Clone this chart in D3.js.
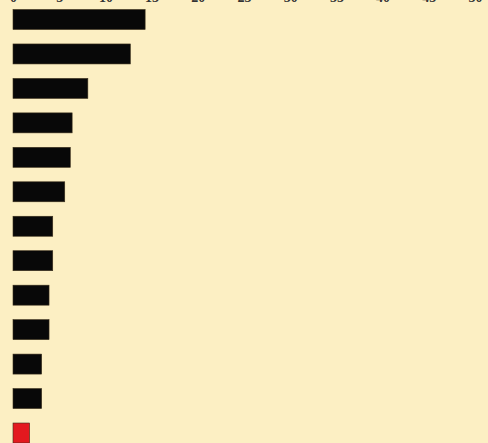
<!DOCTYPE html>
<html>
<head>
<meta charset="utf-8">
<script src="https://cdn.jsdelivr.net/npm/d3@7"></script>
<style>
  body { margin: 0; background: #fcefc3; }
  svg { display: block; }
</style>
</head>
<body>
<div id="root"></div>
<script>
// values (labels are cropped out of the reference)
var categories = ["A", "B", "C", "D", "E", "F", "G", "H", "I", "J", "K", "L", "M"];
var values = [14.3, 12.7, 8.1, 6.4, 6.2, 5.6, 4.3, 4.3, 3.9, 3.9, 3.1, 3.1, 1.8];
var highlight = ["M"];
var xTicks = [0, 5, 10, 15, 20, 25, 30, 35, 40, 45, 50];

var width = 488, height = 443;

var svg = d3.select("#root")
  .append("svg")
  .attr("width", width)
  .attr("height", height);

svg.append("rect")
  .attr("width", width)
  .attr("height", height)
  .attr("fill", "#fcefc3");

var x = d3.scaleLinear()
  .domain([0, 50])
  .range([13, 475]);

var y = d3.scaleBand()
  .domain(categories)
  .range([9.5, 443])
  .paddingInner(0.42)
  .paddingOuter(0);

// top axis, labels mostly cut off by the crop
var axis = svg.append("g")
  .attr("transform", "translate(0,1.5)")
  .call(d3.axisTop(x).tickValues(xTicks).tickSize(0).tickPadding(0));
axis.select(".domain").remove();
axis.selectAll("text")
  .attr("font-family", "'Liberation Serif', serif")
  .attr("font-size", 14)
  .attr("font-weight", "bold")
  .attr("fill", "#333");

svg.selectAll(".bar")
  .data(categories)
  .enter()
  .append("rect")
  .attr("class", "bar")
  .attr("x", x(0))
  .attr("y", d => y(d))
  .attr("width", (d, i) => x(values[i]) - x(0))
  .attr("height", y.bandwidth())
  .attr("fill", d => highlight.includes(d) ? "#e3191f" : "#080808")
  .attr("stroke", "#3a2f1c")
  .attr("stroke-width", 0.6);
</script>
</body>
</html>
